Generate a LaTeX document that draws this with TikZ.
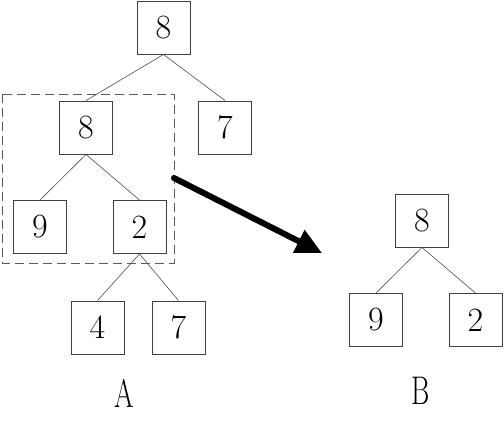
\documentclass[tikz,border=0pt]{standalone}
\usetikzlibrary{arrows.meta}
\begin{document}
\begin{tikzpicture}[x=1pt,y=-1pt,
  box/.style={draw=black!75, line width=0.9pt, minimum width=53pt, minimum height=53pt, inner sep=0pt, font=\fontsize{34}{36}\selectfont},
  edge/.style={draw=black!70, line width=0.6pt},
  lab/.style={font=\fontsize{40}{42}\selectfont, xscale=0.7, transform shape}]
\useasboundingbox (0,0) rectangle (504,432);
\node[box] (r) at (163.5,27.5) {8};
\node[box] (a) at (86,127.5) {8};
\node[box] (b) at (225,127.5) {7};
\node[box] (c) at (40,227) {9};
\node[box] (d) at (139.5,227) {2};
\node[box] (e) at (97.5,327.5) {4};
\node[box] (f) at (178.5,327.5) {7};
\node[box] (g) at (422,220.5) {8};
\node[box] (h) at (376,320) {9};
\node[box] (i) at (475.5,320) {2};
\draw[edge] (r.south) -- (a.north);
\draw[edge] (r.south) -- (b.north);
\draw[edge] (a.south) -- (c.north);
\draw[edge] (a.south) -- (d.north);
\draw[edge] (d.south) -- (e.north);
\draw[edge] (d.south) -- (f.north);
\draw[edge] (g.south) -- (h.north);
\draw[edge] (g.south) -- (i.north);
\draw[draw=black!65, line width=1pt, dash pattern=on 9pt off 5pt] (2,94) rectangle (174,263);
\coordinate (s) at (174,178);
\coordinate (t) at (322,253);
\draw[line width=6pt, line cap=round, -{Triangle[length=26pt,width=24pt]}] (s) -- (t);
\node[lab] (la) at (124,393) {A};
\node[lab] (lb) at (421,391) {B};
\end{tikzpicture}
\end{document}
